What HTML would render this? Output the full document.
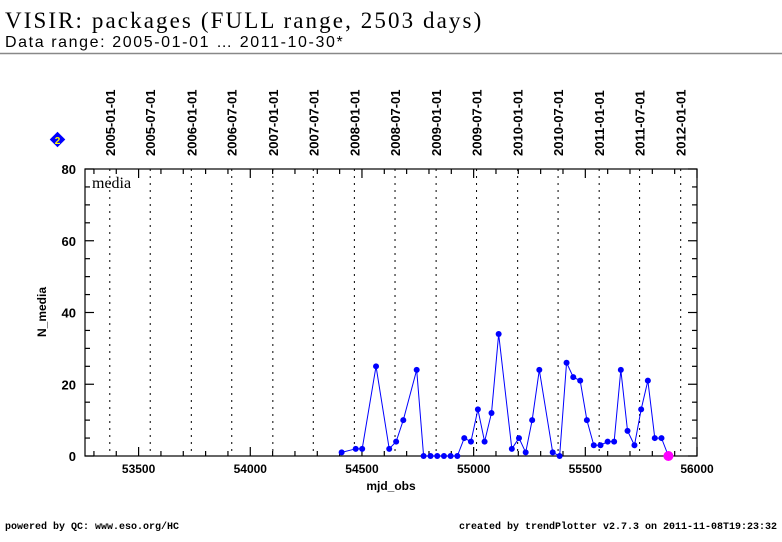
<!DOCTYPE html>
<html><head><meta charset="utf-8">
<style>
body{margin:0;background:#fff;width:782px;height:542px;overflow:hidden;font-family:"Liberation Sans",sans-serif}
svg{display:block}
</style></head>
<body>
<svg id="chart" width="782" height="542" xmlns="http://www.w3.org/2000/svg">
<text x="5" y="28" font-family="Liberation Serif, serif" font-size="23" letter-spacing="2.1" fill="#000">VISIR: packages (FULL range, 2503 days)</text>
<text x="5" y="47" font-family="Liberation Sans, sans-serif" font-size="16" letter-spacing="1.6" fill="#000">Data range: 2005-01-01 … 2011-10-30*</text>
<line x1="0" y1="53.5" x2="782" y2="53.5" stroke="#888" stroke-width="1.5"/>
<g id="g"></g>
<text x="5" y="529" font-family="Liberation Mono, monospace" font-size="10" font-weight="bold">powered by QC: www.eso.org/HC</text>
<text x="777" y="529" font-family="Liberation Mono, monospace" font-size="10" font-weight="bold" text-anchor="end">created by trendPlotter v2.7.3 on 2011-11-08T19:23:32</text>
</svg>
<script>
const mjd=[54409,54472,54501,54563,54622,54653,54685,54745,54776,54807,54837,54867,54897,54927,54958,54988,55019,55049,55080,55112,55171,55203,55233,55262,55294,55354,55385,55416,55446,55477,55507,55538,55568,55600,55629,55659,55689,55720,55750,55780,55811,55841,55872];
const nMedia=[1,2,2,25,2,4,10,24,0,0,0,0,0,0,5,4,13,4,12,34,2,5,1,10,24,1,0,26,22,21,10,3,3,4,4,24,7,3,13,21,5,5,0];
const dateLabels=["2005-01-01","2005-07-01","2006-01-01","2006-07-01","2007-01-01","2007-07-01","2008-01-01","2008-07-01","2009-01-01","2009-07-01","2010-01-01","2010-07-01","2011-01-01","2011-07-01","2012-01-01"];
const dateMjd=[53371,53552,53736,53917,54101,54282,54466,54648,54832,55013,55197,55378,55562,55743,55927];
const xTicks=[53500,54000,54500,55000,55500,56000];
const yTicks=[0,20,40,60,80];

const NS="http://www.w3.org/2000/svg";
const L=85,R=697,T=169,B=456,X0=53260,X1=56000,Y0=0,Y1=80;
const sx=v=>L+(v-X0)/(X1-X0)*(R-L);
const sy=v=>B-(v-Y0)/(Y1-Y0)*(B-T);
const g=document.getElementById('g');
function mk(t,a){const e=document.createElementNS(NS,t);for(const k in a)e.setAttribute(k,a[k]);g.appendChild(e);return e;}

dateMjd.forEach((d,i)=>{
  const x=sx(d);
  const ln=mk('line',{x1:x,y1:T,x2:x,y2:B,stroke:'#000','stroke-width':1,'stroke-dasharray':'2,5'});
  
  
  const t=mk('text',{x:0,y:0,'font-size':13,'font-weight':'bold','text-anchor':'start',transform:`translate(${x+5},156) rotate(-90)`});
  t.textContent=dateLabels[i];
  
  
});

const fr=mk('rect',{x:L,y:T,width:R-L,height:B-T,fill:'none',stroke:'#000','stroke-width':1.2});



for(let v=53300;v<=56000;v+=100){
  const x=sx(v);const maj=v%500===0;const len=maj?9:5;
  const a=mk('line',{x1:x,y1:B,x2:x,y2:B-len,stroke:'#000','stroke-width':1.2});
  
  
  const b=mk('line',{x1:x,y1:T,x2:x,y2:T+len,stroke:'#000','stroke-width':1.2});
  
  
}
xTicks.forEach(v=>{
  const t=mk('text',{x:sx(v),y:473,'font-size':12,'font-weight':'bold','text-anchor':'middle'});
  t.textContent=v;
  
  
});
for(let v=0;v<=80;v+=5){
  const y=sy(v);const maj=v%20===0;const len=maj?9:5;
  const a=mk('line',{x1:L,y1:y,x2:L+len,y2:y,stroke:'#000','stroke-width':1.2});
  
  
  const b=mk('line',{x1:R,y1:y,x2:R-len,y2:y,stroke:'#000','stroke-width':1.2});
  
  
}
yTicks.forEach(v=>{
  const t=mk('text',{x:76,y:sy(v)+5,'font-size':13,'font-weight':'bold','text-anchor':'end'});
  t.textContent=v;
  
  
});
const xt=mk('text',{x:391,y:490,'font-size':12,'font-weight':'bold','text-anchor':'middle'});
xt.textContent='mjd_obs';


const yt=mk('text',{x:0,y:0,'font-size':12,'font-weight':'bold','text-anchor':'middle',transform:'translate(46,312) rotate(-90)'});
yt.textContent='N_media';


const pl=mk('text',{x:92,y:188,'font-size':16,'font-family':'Liberation Serif, serif'});
pl.textContent='media';



const bd=mk('rect',{x:52,y:134,width:11,height:11,fill:'#0000ff',transform:'rotate(45 57.5 139.5)'});


const bt=mk('text',{x:57.5,y:144,'font-size':10,'font-weight':'bold',fill:'#ffff00','text-anchor':'middle'});
bt.textContent='2';



const line=mk('polyline',{points:mjd.map((d,i)=>sx(d)+','+sy(nMedia[i])).join(' '),fill:'none',stroke:'#0000ff','stroke-width':1});


mjd.forEach((d,i)=>{
  const last=i===mjd.length-1;
  const c=mk('circle',{cx:sx(d),cy:sy(nMedia[i]),r:last?5:3,fill:last?'#ff00ff':'#0000ff'});
  
  
});
</script>
</body></html>
